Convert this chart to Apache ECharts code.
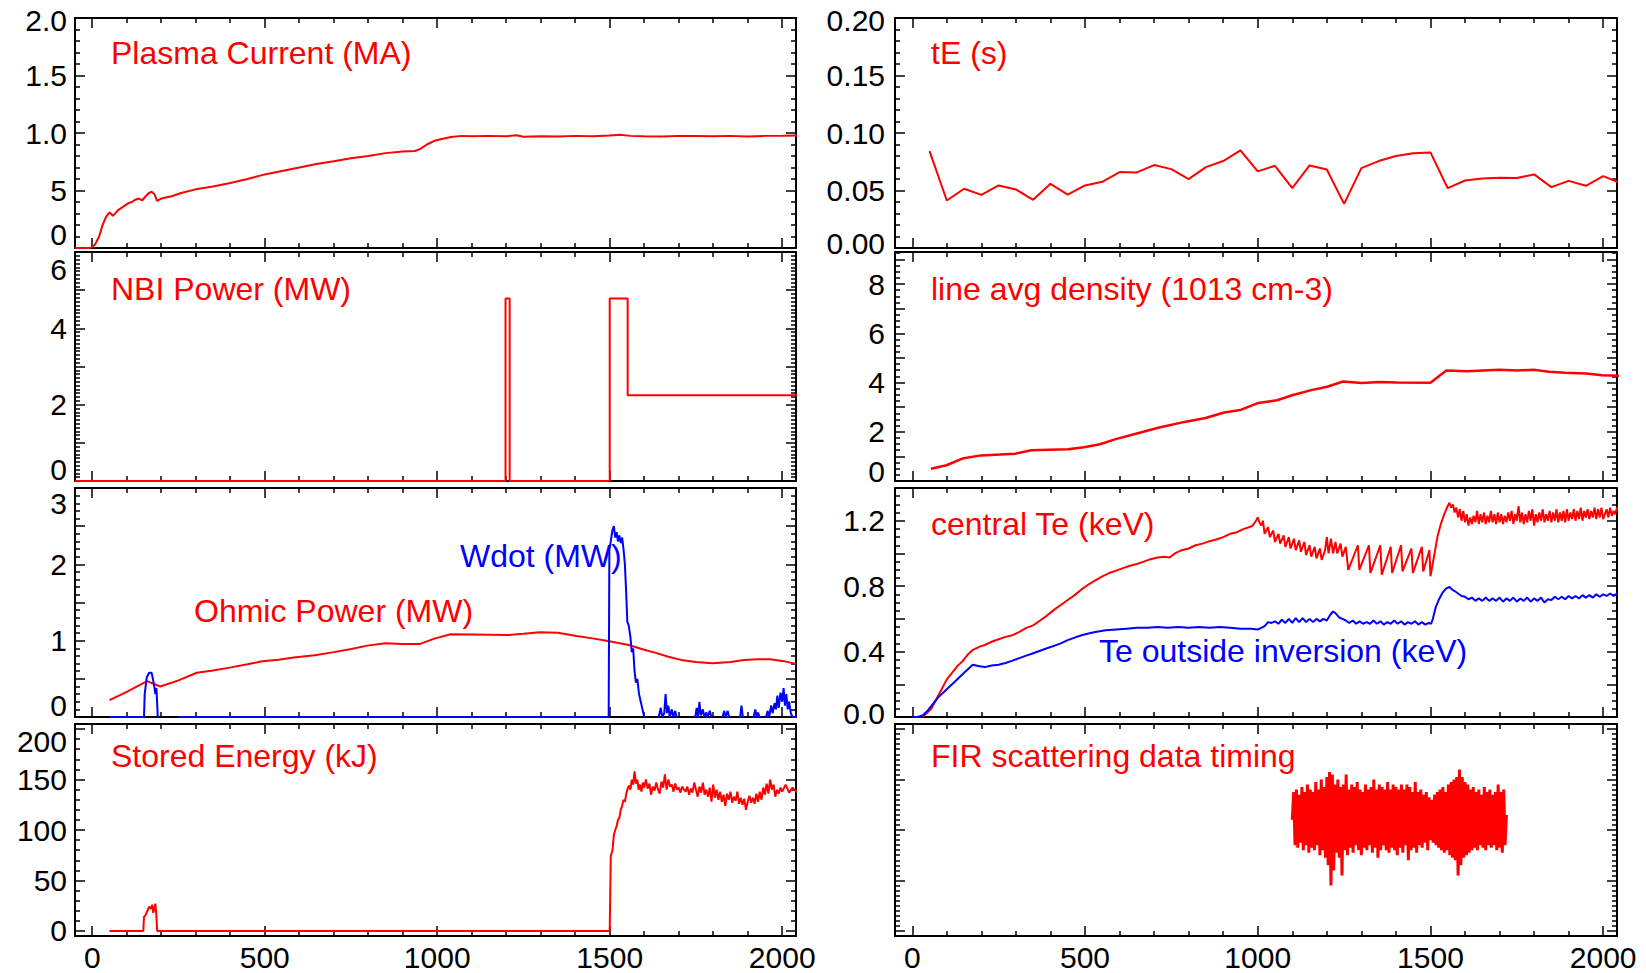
<!DOCTYPE html>
<html><head><meta charset="utf-8">
<script src="https://cdn.jsdelivr.net/npm/echarts@6/dist/echarts.min.js"></script>
<style>html,body{margin:0;padding:0;background:#fff}#c{width:1646px;height:973px}</style>
</head><body><div id="c"></div>
<script>
// ================= DATA =================
const xTickValues = [0, 500, 1000, 1500, 2000];
const xTickLabels = ['0', '500', '1000', '1500', '2000'];

// Plasma current (MA)
const plasmaCurrent = [[-50,0],[-5,0],[8,0.03],[20,0.1],[30,0.2],[40,0.27],[50,0.31],[60,0.28],[75,0.33],[90,0.36],[105,0.39],[115,0.4],[125,0.42],[135,0.43],[145,0.415],[155,0.45],[165,0.48],[172,0.49],[180,0.47],[188,0.41],[200,0.43],[230,0.45],[260,0.48],[300,0.51],[350,0.535],[400,0.565],[450,0.6],[500,0.64],[550,0.67],[600,0.7],[650,0.73],[700,0.755],[750,0.78],[800,0.8],[850,0.825],[900,0.84],[935,0.843],[950,0.86],[970,0.9],[990,0.93],[1010,0.945],[1040,0.965],[1070,0.975],[1100,0.972],[1150,0.975],[1200,0.972],[1230,0.98],[1250,0.968],[1300,0.972],[1350,0.97],[1400,0.975],[1450,0.972],[1500,0.978],[1530,0.985],[1560,0.975],[1600,0.972],[1650,0.97],[1700,0.975],[1750,0.974],[1800,0.972],[1850,0.975],[1900,0.97],[1950,0.975],[2000,0.976],[2050,0.978]];

// NBI power (MW)
const nbiPower = [[-50,0],[1198,0],[1198,4.78],[1210,4.78],[1210,0],[1500,0],[1500,4.78],[1552,4.78],[1552,2.25],[2050,2.25]];

// Ohmic power (MW)
const ohmicPower = [[50,0.22],[100,0.33],[159,0.47],[197,0.4],[250,0.48],[303,0.58],[350,0.61],[402,0.65],[450,0.69],[493,0.73],[540,0.75],[584,0.78],[645,0.81],[700,0.85],[751,0.89],[797,0.935],[850,0.965],[900,0.955],[948,0.955],[994,1.03],[1039,1.083],[1100,1.08],[1150,1.078],[1206,1.074],[1250,1.09],[1297,1.109],[1350,1.104],[1404,1.061],[1450,1.03],[1495,0.996],[1555,0.943],[1600,0.88],[1631,0.843],[1670,0.79],[1707,0.748],[1750,0.72],[1798,0.704],[1850,0.72],[1889,0.748],[1930,0.755],[1965,0.757],[2000,0.735],[2041,0.696]];

// Wdot (MW)
const wdot = [[50,0],[150,0],[152,0.3],[158,0.52],[165,0.58],[172,0.58],[178,0.45],[183,0.3],[186,0.38],[190,0],[195,-0.1],[248,-0.1],[252,0],[1497,0],[1499,2.2],[1503,2.3],[1508,2.45],[1512,2.5],[1516,2.35],[1520,2.42],[1524,2.3],[1528,2.38],[1532,2.28],[1536,2.35],[1540,2.2],[1544,2.0],[1548,1.6],[1551,1.25],[1555,1.2],[1560,1.05],[1564,0.85],[1568,0.9],[1572,0.6],[1576,0.45],[1580,0.5],[1585,0.3],[1590,0.2],[1595,0.1],[1600,0],[1605,-0.1],[1640,-0.1],[1642,0],[1648,0.12],[1652,0],[1658,0.05],[1662,0.3],[1666,0.05],[1670,0.15],[1674,0],[1680,0.1],[1684,0],[1690,0.08],[1694,0],[1697,-0.1],[1745,-0.1],[1748,0],[1752,0.12],[1756,0],[1760,0.2],[1764,0.02],[1770,0.1],[1774,0],[1780,0.06],[1784,0],[1790,0.08],[1795,0],[1798,-0.1],[1825,-0.1],[1827,0],[1832,0.08],[1836,0],[1842,0.08],[1846,0],[1849,-0.1],[1875,-0.1],[1878,0],[1882,0.15],[1886,0],[1890,-0.1],[1915,-0.1],[1917,0],[1922,0.1],[1926,0],[1930,0.06],[1934,0],[1937,-0.1],[1950,-0.1],[1953,0],[1958,0.08],[1962,0],[1968,0.15],[1972,0.05],[1978,0.18],[1982,0.1],[1986,0.28],[1990,0.12],[1995,0.32],[2000,0.2],[2004,0.38],[2008,0.15],[2012,0.3],[2016,0.1],[2020,0.2],[2025,0.05],[2030,0],[2050,0]];

// Stored energy (kJ)
const storedEnergy = [[50,0],[148,0],[150,14],[155,16],[160,20],[165,24],[170,22],[174,26],[177,18],[180,22],[183,27],[186,15],[188,0],[1500,0],[1503,74],[1508,80],[1512,95],[1516,100],[1520,104],[1524,110],[1528,112],[1532,120],[1536,124],[1540,130],[1544,128],[1548,136],[1552,141],[1556,144],[1560,140],[1564,150],[1568,145],[1572,158],[1576,146],[1580,150],[1584,140],[1588,145],[1592,138],[1596,147],[1600,142],[1605,150],[1610,141],[1615,146],[1620,135],[1625,143],[1630,139],[1635,147],[1640,140],[1645,136],[1650,148],[1655,142],[1660,155],[1665,140],[1670,150],[1675,143],[1680,145],[1685,138],[1690,146],[1695,140],[1700,142],[1705,137],[1710,143],[1715,140],[1720,138],[1725,143],[1730,135],[1735,141],[1740,137],[1745,147],[1750,140],[1755,133],[1760,143],[1765,137],[1770,147],[1775,135],[1780,140],[1785,133],[1790,142],[1795,128],[1800,145],[1805,132],[1810,140],[1815,130],[1820,138],[1825,128],[1830,135],[1835,124],[1840,136],[1845,130],[1850,138],[1855,127],[1860,133],[1865,129],[1870,138],[1875,126],[1880,132],[1885,125],[1890,131],[1895,120],[1900,128],[1905,134],[1910,127],[1915,132],[1920,126],[1925,136],[1930,128],[1935,138],[1940,130],[1945,142],[1950,135],[1955,146],[1960,136],[1965,150],[1970,140],[1975,145],[1980,133],[1985,140],[1990,136],[1995,142],[2000,138],[2010,145],[2020,137],[2030,142],[2040,138],[2050,140]];

// Energy confinement time tE (s)
const tauE = [[50,0.0843],[100,0.0413],[150,0.0515],[200,0.0462],[250,0.0544],[300,0.0509],[350,0.0419],[400,0.0558],[450,0.0465],[500,0.0544],[550,0.0576],[600,0.066],[650,0.0657],[700,0.0721],[750,0.0686],[800,0.0599],[850,0.0703],[900,0.0756],[950,0.0849],[1000,0.0666],[1050,0.0715],[1100,0.052],[1150,0.0718],[1200,0.0683],[1250,0.0384],[1300,0.0695],[1350,0.0756],[1400,0.08],[1450,0.0823],[1500,0.0831],[1550,0.052],[1600,0.0587],[1650,0.0605],[1700,0.061],[1750,0.0608],[1800,0.064],[1850,0.0529],[1900,0.0584],[1950,0.0541],[2000,0.0625],[2050,0.0564]];

// Line average density (1e13 cm-3)
const density = [[54,0.5],[99,0.64],[145,0.91],[199,1.04],[298,1.11],[344,1.25],[451,1.29],[497,1.37],[543,1.49],[589,1.7],[650,1.93],[712,2.16],[788,2.4],[849,2.56],[903,2.78],[949,2.88],[1002,3.17],[1056,3.28],[1102,3.49],[1155,3.69],[1201,3.83],[1247,4.04],[1301,3.98],[1354,4.02],[1400,4.0],[1500,3.99],[1546,4.49],[1607,4.46],[1699,4.52],[1752,4.49],[1798,4.52],[1844,4.44],[1890,4.4],[1951,4.37],[1997,4.29],[2050,4.27]];

// Central Te (keV)
const centralTe = [[30,0],[40,0.02],[55,0.05],[70,0.11],[85,0.17],[100,0.23],[115,0.27],[130,0.31],[145,0.34],[160,0.38],[175,0.41],[185,0.42],[195,0.43],[210,0.44],[230,0.46],[250,0.475],[270,0.49],[290,0.5],[310,0.52],[330,0.545],[350,0.56],[370,0.59],[390,0.62],[410,0.655],[430,0.685],[450,0.715],[470,0.745],[490,0.78],[510,0.81],[530,0.835],[550,0.86],[570,0.88],[590,0.895],[610,0.91],[630,0.925],[650,0.935],[670,0.95],[690,0.965],[710,0.975],[730,0.98],[745,0.975],[760,1.0],[780,1.02],[800,1.03],[820,1.05],[840,1.06],[860,1.075],[880,1.085],[900,1.1],[920,1.12],[940,1.13],[960,1.15],[975,1.16],[985,1.17],[995,1.2],[1000,1.22],[1005,1.19],[1010,1.17],[1015,1.2],[1020,1.12],[1030,1.16],[1035,1.1],[1045,1.14],[1050,1.07],[1060,1.12],[1065,1.06],[1075,1.11],[1080,1.04],[1090,1.1],[1095,1.03],[1105,1.09],[1110,1.02],[1120,1.08],[1125,1.01],[1135,1.07],[1140,0.99],[1150,1.05],[1155,0.98],[1165,1.04],[1170,0.97],[1180,1.03],[1185,0.96],[1195,1.02],[1200,1.1],[1205,1.0],[1212,1.09],[1218,1.0],[1225,1.07],[1230,1.0],[1240,1.06],[1245,0.98],[1255,1.04],[1262,0.9],[1290,1.05],[1294,0.9],[1322,1.05],[1326,0.88],[1355,1.05],[1359,0.87],[1385,1.04],[1389,0.88],[1415,1.05],[1419,0.89],[1445,1.03],[1449,0.88],[1475,1.04],[1479,0.89],[1497,1.02],[1500,0.86],[1505,0.92],[1512,1.0],[1520,1.1],[1530,1.18],[1540,1.24],[1550,1.29],[1555,1.31],[1560,1.28],[1565,1.3],[1570,1.25],[1575,1.28],[1580,1.22],[1585,1.27],[1590,1.2],[1595,1.26],[1600,1.19],[1605,1.24],[1610,1.17],[1615,1.22],[1620,1.18],[1625,1.23],[1630,1.19],[1635,1.26],[1640,1.18],[1645,1.24],[1650,1.19],[1655,1.25],[1660,1.18],[1665,1.23],[1670,1.19],[1675,1.26],[1680,1.19],[1685,1.24],[1690,1.18],[1695,1.25],[1700,1.19],[1705,1.24],[1710,1.18],[1715,1.23],[1720,1.19],[1725,1.25],[1730,1.2],[1735,1.26],[1740,1.18],[1745,1.24],[1750,1.2],[1755,1.29],[1760,1.19],[1765,1.25],[1770,1.18],[1775,1.24],[1780,1.19],[1785,1.26],[1790,1.2],[1795,1.27],[1800,1.17],[1805,1.24],[1810,1.19],[1815,1.25],[1820,1.2],[1825,1.27],[1830,1.19],[1835,1.24],[1840,1.2],[1845,1.26],[1850,1.19],[1855,1.25],[1860,1.2],[1865,1.27],[1870,1.19],[1875,1.25],[1880,1.2],[1885,1.26],[1890,1.19],[1895,1.27],[1900,1.2],[1905,1.25],[1910,1.21],[1915,1.27],[1920,1.2],[1925,1.26],[1930,1.21],[1935,1.28],[1940,1.2],[1945,1.26],[1950,1.22],[1955,1.27],[1960,1.21],[1965,1.26],[1970,1.22],[1975,1.28],[1980,1.21],[1985,1.27],[1990,1.22],[1995,1.28],[2000,1.21],[2010,1.27],[2015,1.22],[2020,1.28],[2025,1.23],[2030,1.26],[2035,1.24],[2040,1.28],[2045,1.27],[2050,1.31]];

// Te outside inversion radius (keV)
const outerTe = [[0,0],[15,0],[30,0.01],[45,0.04],[60,0.08],[75,0.12],[90,0.15],[105,0.18],[120,0.21],[135,0.24],[150,0.27],[165,0.3],[175,0.32],[185,0.315],[195,0.31],[210,0.305],[230,0.315],[250,0.32],[270,0.33],[290,0.345],[310,0.36],[330,0.375],[350,0.39],[370,0.405],[390,0.42],[410,0.435],[430,0.45],[450,0.47],[470,0.485],[490,0.5],[510,0.51],[530,0.52],[560,0.53],[590,0.535],[620,0.54],[650,0.545],[680,0.545],[710,0.55],[740,0.545],[770,0.55],[800,0.545],[830,0.55],[860,0.545],[890,0.55],[920,0.545],[950,0.54],[980,0.54],[1000,0.535],[1010,0.545],[1020,0.555],[1030,0.58],[1040,0.575],[1050,0.585],[1060,0.57],[1070,0.595],[1080,0.575],[1090,0.6],[1100,0.575],[1110,0.605],[1120,0.58],[1130,0.605],[1140,0.58],[1150,0.6],[1160,0.58],[1170,0.6],[1180,0.585],[1190,0.6],[1200,0.59],[1210,0.625],[1218,0.645],[1225,0.635],[1235,0.61],[1245,0.6],[1255,0.59],[1265,0.575],[1275,0.59],[1285,0.57],[1295,0.585],[1305,0.57],[1315,0.58],[1325,0.57],[1335,0.59],[1345,0.57],[1355,0.585],[1365,0.565],[1375,0.58],[1385,0.57],[1395,0.59],[1405,0.57],[1415,0.585],[1425,0.565],[1435,0.58],[1445,0.57],[1455,0.585],[1465,0.565],[1475,0.58],[1485,0.565],[1495,0.575],[1502,0.57],[1507,0.6],[1515,0.67],[1525,0.72],[1535,0.76],[1545,0.785],[1555,0.795],[1562,0.78],[1570,0.77],[1580,0.755],[1590,0.74],[1600,0.735],[1610,0.72],[1620,0.73],[1630,0.71],[1640,0.725],[1650,0.71],[1660,0.73],[1670,0.71],[1680,0.725],[1690,0.71],[1700,0.73],[1710,0.705],[1720,0.725],[1730,0.71],[1740,0.73],[1750,0.705],[1760,0.725],[1770,0.71],[1780,0.73],[1790,0.705],[1800,0.725],[1810,0.71],[1820,0.73],[1830,0.7],[1840,0.72],[1850,0.715],[1860,0.735],[1870,0.72],[1880,0.735],[1890,0.72],[1900,0.74],[1910,0.725],[1920,0.74],[1930,0.725],[1940,0.745],[1950,0.73],[1960,0.745],[1970,0.73],[1980,0.75],[1990,0.735],[2000,0.75],[2010,0.74],[2020,0.755],[2030,0.74],[2040,0.755],[2050,0.745]];

// FIR scattering data timing (arbitrary units), samples every 4 ms from 1100 ms
const firStartTime = 1100;
const firSampleStep = 4;
const firSignal = [2.2,2.75,1.7,2.8,1.65,2.7,1.75,2.85,1.6,2.75,1.7,2.9,1.55,2.8,1.65,2.75,1.6,2.95,1.7,2.8,1.5,3.0,1.6,2.85,1.45,3.05,1.3,3.15,0.9,3.1,1.2,2.9,1.55,3.0,1.45,2.85,1.1,2.9,1.6,3.1,1.5,2.8,1.65,2.9,1.55,2.85,1.7,2.95,1.6,2.8,1.5,2.75,1.65,2.9,1.6,2.8,1.7,2.85,1.55,3.0,1.65,2.8,1.45,2.9,1.6,2.85,1.7,2.8,1.6,2.95,1.55,2.8,1.65,2.9,1.6,2.85,1.5,2.8,1.65,2.9,1.55,2.8,1.7,2.9,1.4,2.85,1.6,2.75,1.65,2.95,1.55,2.75,1.7,2.8,1.65,2.7,1.75,2.75,1.6,2.65,1.8,2.6,1.75,2.7,1.7,2.75,1.65,2.8,1.6,2.85,1.55,2.75,1.6,2.9,1.5,2.95,1.45,3.0,1.4,3.05,1.1,3.2,1.3,3.05,1.45,2.95,1.5,2.9,1.55,2.8,1.6,2.85,1.65,2.75,1.6,2.8,1.7,2.7,1.65,2.85,1.6,2.75,1.7,2.8,1.65,2.7,1.7,2.75,1.6,2.9,1.65,2.75,1.55,2.8,1.7,2.3];

// Y tick values and their printed labels
const pcTicks = [0, 0.5, 1.0, 1.5, 2.0];          const pcLabelVals = [0, 0.5, 1.0, 1.5, 2.0]; const pcLabels = ['0', '5', '1.0', '1.5', '2.0'];
const nbiTicks = [0, 1, 2, 3, 4, 5, 6];           const nbiLabelVals = [0, 2, 4, 6];          const nbiLabels = ['0', '2', '4', '6'];
const pwrTicks = [0, 0.5, 1, 1.5, 2, 2.5, 3];     const pwrLabelVals = [0, 1, 2, 3];          const pwrLabels = ['0', '1', '2', '3'];
const wTicks = [0, 50, 100, 150, 200];            const wLabelVals = [0, 50, 100, 150, 200];  const wLabels = ['0', '50', '100', '150', '200'];
const teTicks = [0, 0.05, 0.1, 0.15, 0.2];        const teLabelVals = [0, 0.05, 0.1, 0.15, 0.2]; const teLabels = ['0.00', '0.05', '0.10', '0.15', '0.20'];
const neTicks = [0, 1, 2, 3, 4, 5, 6, 7, 8, 9];   const neLabelVals = [0, 2, 4, 6, 8];       const neLabels = ['0', '2', '4', '6', '8'];
const tempTicks = [0, 0.2, 0.4, 0.6, 0.8, 1.0, 1.2, 1.4]; const tempLabelVals = [0, 0.4, 0.8, 1.2]; const tempLabels = ['0.0', '0.4', '0.8', '1.2'];
const firTicks = [0, 1, 2, 3, 4];                 const firLabelVals = [];                    const firLabels = [];

// ================= LAYOUT / STYLE =================
const RED = '#ff0000', BLUE = '#0000ff';
const FONT = 'Liberation Sans';
const colLeft = [75, 895], colWidth = [721, 722];
const rowTop = [18, 252, 488, 724], rowHeight = [230, 229, 229, 212];
const X_MIN = -50, X_MAX = 2040;

function stepValues(a, b, step, exclude) {
  const out = [];
  const n = Math.round((b - a) / step);
  for (let i = 0; i <= n; i++) {
    const v = +(a + i * step).toFixed(6);
    if (!exclude.some(e => Math.abs(e - v) < 1e-9)) out.push(v);
  }
  return out;
}
const firData = firSignal.map((v, i) => [firStartTime + i * firSampleStep, v]);

// shift: index of label -> vertical offset (px) of that label from its tick (keeps edge labels inside the panel)
const panels = [
  { col: 0, row: 0, min: 0, max: 2, ticks: pcTicks, minor: [0, 2, 0.1], lv: pcLabelVals, lt: pcLabels, shift: { 0: -14, 4: 2 },
    series: [{ data: plasmaCurrent, color: RED, width: 2 }] },
  { col: 0, row: 1, min: 0, max: 6, ticks: nbiTicks, minor: [0, 6, 0.1], lv: nbiLabelVals, lt: nbiLabels, shift: { 0: -12, 3: 17 },
    series: [{ data: nbiPower, color: RED, width: 2 }] },
  { col: 0, row: 2, min: 0, max: 3, ticks: pwrTicks, minor: [0, 3, 0.1], lv: pwrLabelVals, lt: pwrLabels, shift: { 0: -12, 3: 15 },
    series: [{ data: ohmicPower, color: RED, width: 2 }, { data: wdot, color: BLUE, width: 2 }] },
  { col: 0, row: 3, min: -5, max: 205, ticks: wTicks, minor: [0, 200, 10], lv: wLabelVals, lt: wLabels, shift: { 4: 12 },
    series: [{ data: storedEnergy, color: RED, width: 2 }] },
  { col: 1, row: 0, min: 0, max: 0.2, ticks: teTicks, minor: [0, 0.2, 0.01], lv: teLabelVals, lt: teLabels, shift: { 0: -5, 4: 2 },
    series: [{ data: tauE, color: RED, width: 2 }] },
  { col: 1, row: 1, min: 0, max: 9.3, ticks: neTicks, minor: [0, 9.25, 0.25], lv: neLabelVals, lt: neLabels, shift: { 0: -10 },
    series: [{ data: density, color: RED, width: 2.5 }] },
  { col: 1, row: 2, min: 0, max: 1.4, ticks: tempTicks, minor: [0, 1.4, 0.05], lv: tempLabelVals, lt: tempLabels, shift: { 0: -4 },
    series: [{ data: centralTe, color: RED, width: 2 }, { data: outerTe, color: BLUE, width: 2 }] },
  { col: 1, row: 3, min: -0.1, max: 4.1, ticks: firTicks, minor: [0, 4, 0.1], lv: firLabelVals, lt: firLabels, shift: {},
    series: [{ data: firData, color: RED, width: 3 }] }
];

const annotations = [
  { text: 'Plasma Current (MA)', x: 111, y: 53, color: RED },
  { text: 'NBI Power (MW)', x: 111, y: 289, color: RED },
  { text: 'Wdot (MW)', x: 460, y: 556, color: BLUE },
  { text: 'Ohmic Power (MW)', x: 194, y: 611, color: RED },
  { text: 'Stored Energy (kJ)', x: 111, y: 756, color: RED },
  { text: 'tE (s)', x: 931, y: 53, color: RED },
  { text: 'line avg density (1013 cm-3)', x: 931, y: 289, color: RED },
  { text: 'central Te (keV)', x: 931, y: 524, color: RED },
  { text: 'Te outside inversion (keV)', x: 1099, y: 651, color: BLUE },
  { text: 'FIR scattering data timing', x: 931, y: 756, color: RED }
];

// ================= BUILD OPTION =================
const grid = [], xAxis = [], yAxis = [], series = [];
const frameLine = { show: true, onZero: false, lineStyle: { color: '#000', width: 2 } };
const noLine = { show: false, onZero: false };
const MAJ = 10, MIN = 5;
const TICK_STYLE = { color: '#000', width: 1.5 };
const xMinorTicks = stepValues(0, 2000, 100, xTickValues);

panels.forEach((p, g) => {
  grid.push({ left: colLeft[p.col], top: rowTop[p.row], width: colWidth[p.col], height: rowHeight[p.row], show: false });
  const xb = xAxis.length, yb = yAxis.length;
  const bottomRow = p.row === 3;
  const xCommon = { type: 'value', gridIndex: g, min: X_MIN, max: X_MAX, splitLine: { show: false } };
  xAxis.push(Object.assign({}, xCommon, { position: 'bottom', axisLine: frameLine,
    axisTick: { show: true, inside: true, length: MAJ, customValues: xTickValues, lineStyle: TICK_STYLE },
    axisLabel: { show: bottomRow, customValues: xTickValues, margin: 6, color: '#000', fontSize: 30, fontFamily: FONT,
      formatter: v => { const i = xTickValues.indexOf(v); return i >= 0 ? xTickLabels[i] : ''; } } }));
  xAxis.push(Object.assign({}, xCommon, { position: 'bottom', axisLine: noLine,
    axisTick: { show: true, inside: true, length: MIN, customValues: xMinorTicks, lineStyle: TICK_STYLE },
    axisLabel: { show: false } }));
  xAxis.push(Object.assign({}, xCommon, { position: 'top', axisLine: frameLine,
    axisTick: { show: true, inside: true, length: MAJ, customValues: xTickValues, lineStyle: TICK_STYLE },
    axisLabel: { show: false } }));
  xAxis.push(Object.assign({}, xCommon, { position: 'top', axisLine: noLine,
    axisTick: { show: true, inside: true, length: MIN, customValues: xMinorTicks, lineStyle: TICK_STYLE },
    axisLabel: { show: false } }));

  const yMinor = stepValues(p.minor[0], p.minor[1], p.minor[2], p.ticks);
  const yCommon = { type: 'value', gridIndex: g, min: p.min, max: p.max, splitLine: { show: false } };
  const labelMargin = p.col === 0 ? 8 : 10;
  const labelFor = v => { const i = p.lv.findIndex(e => Math.abs(e - v) < 1e-9); return i >= 0 ? p.lt[i] : ''; };
  const plainVals = p.lv.filter((v, i) => !(i in p.shift));
  yAxis.push(Object.assign({}, yCommon, { position: 'left', axisLine: frameLine,
    axisTick: { show: true, inside: true, length: MAJ, customValues: p.ticks, lineStyle: TICK_STYLE },
    axisLabel: { show: plainVals.length > 0, customValues: plainVals, margin: labelMargin, color: '#000', fontSize: 30, fontFamily: FONT,
      formatter: labelFor } }));
  yAxis.push(Object.assign({}, yCommon, { position: 'left', axisLine: noLine,
    axisTick: { show: true, inside: true, length: MIN, customValues: yMinor, lineStyle: TICK_STYLE },
    axisLabel: { show: false } }));
  yAxis.push(Object.assign({}, yCommon, { position: 'right', axisLine: frameLine,
    axisTick: { show: true, inside: true, length: MAJ, customValues: p.ticks, lineStyle: TICK_STYLE },
    axisLabel: { show: false } }));
  yAxis.push(Object.assign({}, yCommon, { position: 'right', axisLine: noLine,
    axisTick: { show: true, inside: true, length: MIN, customValues: yMinor, lineStyle: TICK_STYLE },
    axisLabel: { show: false } }));
  // edge labels nudged inside the panel: one label-only axis per shifted label
  Object.keys(p.shift).forEach(k => {
    const s = p.shift[k];
    yAxis.push(Object.assign({}, yCommon, { position: 'left', axisLine: noLine, axisTick: { show: false },
      axisLabel: { show: true, customValues: [p.lv[k]], margin: labelMargin, color: '#000', fontSize: 30, fontFamily: FONT,
        verticalAlign: s > 0 ? 'top' : 'bottom', lineHeight: 2 * Math.abs(s), formatter: labelFor } }));
  });

  p.series.forEach(s => {
    series.push({ type: 'line', xAxisIndex: xb, yAxisIndex: yb, data: s.data, symbol: 'none', showSymbol: false,
      clip: true, animation: false, z: 3, lineStyle: { color: s.color, width: s.width }, itemStyle: { color: s.color } });
  });
});

const graphic = annotations.map(a => ({
  type: 'text', x: a.x, y: a.y, z: 10,
  style: { text: a.text, fill: a.color, fontSize: 32, fontFamily: FONT, verticalAlign: 'middle', align: 'left' }
}));

const chart = echarts.init(document.getElementById('c'), null, { renderer: 'svg', width: 1646, height: 973 });
chart.setOption({ animation: false, backgroundColor: '#fff', grid, xAxis, yAxis, series, graphic });
</script>
</body></html>
